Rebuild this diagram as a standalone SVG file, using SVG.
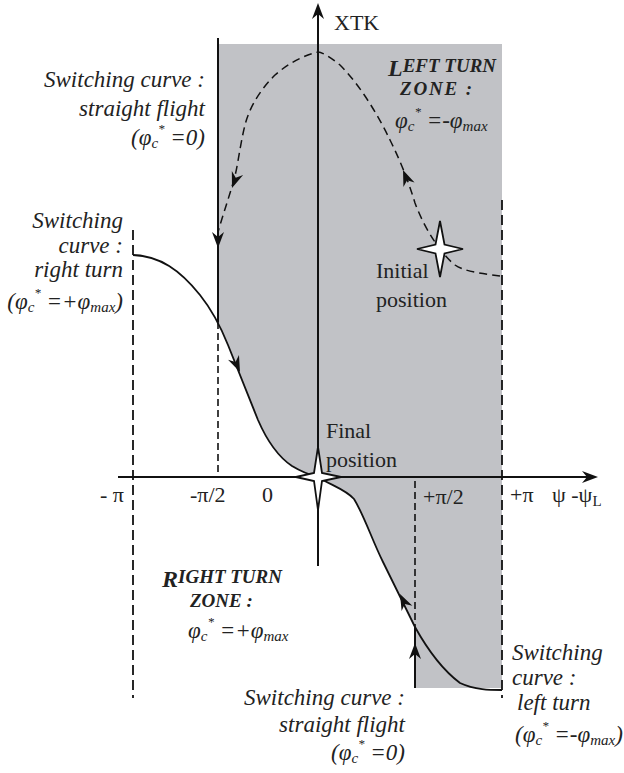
<svg xmlns="http://www.w3.org/2000/svg" xmlns:xlink="http://www.w3.org/1999/xlink" width="624" height="773" viewBox="0 0 624 773">
<defs>
<style>
text{font-family:"Liberation Serif","Times New Roman",Tinos,"DejaVu Serif",serif;fill:#222}
.it{font-style:italic;font-size:23px}
.up{font-size:22px}
.bi{font-style:italic;font-weight:bold;font-size:19px}
.big{font-size:24px}
.sub{font-size:15px}
.sup{font-size:13px}
.ln{fill:none;stroke:#111;stroke-width:2}
.cv{fill:none;stroke:#111;stroke-width:1.8}
.dl{fill:none;stroke:#111;stroke-width:1.8;stroke-dasharray:10 5}
.dl2{fill:none;stroke:#111;stroke-width:1.6;stroke-dasharray:7 4}
.traj{fill:none;stroke:#111;stroke-width:1.5;stroke-dasharray:8 5}
.star{fill:#fff;stroke:#111;stroke-width:1.8;stroke-linejoin:miter}
</style>
<path id="ah" d="M0,0 L-16,-6 L-11,0 L-16,6 Z" fill="#111"/>
</defs>
<rect width="624" height="773" fill="#fff"/>
<g id="zone">
<path d="M218,44 H502 V688 H415 V627 L383,562 C372,540 364,515 354,499 C345,489 330,485 318,477 C310,475 302,472 292,466 C280,458 268,443 258,420 C248,395 236,365 228,345 C222,330 220,326 218,322 Z" fill="#c1c2c6"/>
</g>
<g id="connectors">
<line class="ln" x1="118" y1="477" x2="590" y2="477"/>
<use xlink:href="#ah" transform="translate(598,477)"/>
<line class="ln" x1="318" y1="566" x2="318" y2="12"/>
<use xlink:href="#ah" transform="translate(318,3) rotate(-90)"/>
<line class="ln" x1="218" y1="38" x2="218" y2="322"/>
<use xlink:href="#ah" transform="translate(218,248) rotate(90)"/>
<line class="dl2" x1="218" y1="322" x2="218" y2="472"/>
<line class="dl" x1="133" y1="230" x2="133" y2="698"/>
<line class="dl" x1="502" y1="200" x2="502" y2="698"/>
<line class="dl2" x1="415" y1="481" x2="415" y2="627"/>
<line class="ln" x1="415" y1="627" x2="415" y2="688"/>
<use xlink:href="#ah" transform="translate(415,643) rotate(-90)"/>
<path class="cv" d="M133,255 C160,256 180,270 200,295 C212,310 220,325 228,345 C236,365 248,395 258,420 C268,443 280,458 292,466 C302,472 310,475 318,477"/>
<use xlink:href="#ah" transform="translate(240,372) rotate(66)"/>
<path class="cv" d="M318,477 C330,485 345,489 354,499 C364,515 372,540 383,562 L415,627 C425,645 440,668 460,683 C475,690 490,690 502,690"/>
<use xlink:href="#ah" transform="translate(400,594) rotate(-116)"/>
<path class="traj" d="M500,276 C485,274 465,272 455,265 C442,255 425,230 415,203 C408,180 400,160 390,140 C378,115 360,85 340,65 C330,57 322,52 318,52 C305,55 290,62 275,75 C262,88 250,105 245,125 C240,145 238,165 234,180 C228,200 222,218 218,232"/>
<use xlink:href="#ah" transform="translate(403,170) rotate(-112)"/>
<use xlink:href="#ah" transform="translate(232,188) rotate(110)"/>
</g>
<g id="initial-position">
<path class="star" d="M440,221 L444.5,244.5 L463,249 L444.5,253.5 L440,277 L435.5,253.5 L417,249 L435.5,244.5 Z"/>
<text class="up" x="376" y="278">Initial</text>
<text class="up" x="376" y="307">position</text>
</g>
<g id="final-position">
<path class="star" d="M318,447 L322,473 L341,477 L322,481 L318,510 L314,481 L296,477 L314,473 Z"/>
<text class="up" x="326" y="438">Final</text>
<text class="up" x="326" y="467">position</text>
</g>
<g id="axis-labels">
<text class="up" x="334" y="30">XTK</text>
<text class="up" x="100" y="502">- π</text>
<text class="up" x="190" y="502">-π/2</text>
<text class="up" x="262" y="502">0</text>
<text class="up" x="423" y="504">+π/2</text>
<text class="up" x="510" y="502">+π</text>
<text class="up" x="552" y="502">ψ -ψ<tspan class="sub" dy="4">L</tspan></text>
</g>
<g id="switch-straight-top">
<text class="it" text-anchor="end" x="205" y="87">Switching curve :</text>
<text class="it" text-anchor="end" x="205" y="116">straight flight</text>
<text class="it" text-anchor="end" x="205" y="145">(φ<tspan class="sub" dy="3">c</tspan><tspan class="sup" dy="-15">*</tspan><tspan dy="12"> =0)</tspan></text>
</g>
<g id="switch-right-turn">
<text class="it" text-anchor="end" x="123" y="228">Switching</text>
<text class="it" text-anchor="end" x="123" y="253">curve :</text>
<text class="it" text-anchor="end" x="123" y="277">right turn</text>
<text class="it" text-anchor="end" x="123" y="309">(φ<tspan class="sub" dy="3">c</tspan><tspan class="sup" dy="-15">*</tspan><tspan dy="12"> =+φ</tspan><tspan class="sub" dy="3">max</tspan><tspan dy="-3">)</tspan></text>
</g>
<g id="left-turn-zone">
<text class="bi" x="388" y="76"><tspan class="big">L</tspan><tspan dy="-4">EFT TURN</tspan></text>
<text class="bi" x="400" y="95" textLength="72">ZONE :</text>
<text class="it" x="395" y="128">φ<tspan class="sub" dy="3">c</tspan><tspan class="sup" dy="-15">*</tspan><tspan dy="12"> =-φ</tspan><tspan class="sub" dy="3">max</tspan></text>
</g>
<g id="right-turn-zone">
<text class="bi" x="162" y="587"><tspan class="big">R</tspan><tspan dy="-4">IGHT TURN</tspan></text>
<text class="bi" x="190" y="607">ZONE :</text>
<text class="it" x="188" y="638">φ<tspan class="sub" dy="3">c</tspan><tspan class="sup" dy="-15">*</tspan><tspan dy="12"> =+φ</tspan><tspan class="sub" dy="3">max</tspan></text>
</g>
<g id="switch-left-turn">
<text class="it" x="512" y="660">Switching</text>
<text class="it" x="512" y="685">curve :</text>
<text class="it" x="517" y="710">left turn</text>
<text class="it" x="515" y="742">(φ<tspan class="sub" dy="3">c</tspan><tspan class="sup" dy="-15">*</tspan><tspan dy="12"> =-φ</tspan><tspan class="sub" dy="3">max</tspan><tspan dy="-3">)</tspan></text>
</g>
<g id="switch-straight-bottom">
<text class="it" text-anchor="end" x="405" y="705">Switching curve :</text>
<text class="it" text-anchor="end" x="405" y="732">straight flight</text>
<text class="it" text-anchor="end" x="405" y="760">(φ<tspan class="sub" dy="3">c</tspan><tspan class="sup" dy="-15">*</tspan><tspan dy="12"> =0)</tspan></text>
</g>
</svg>
